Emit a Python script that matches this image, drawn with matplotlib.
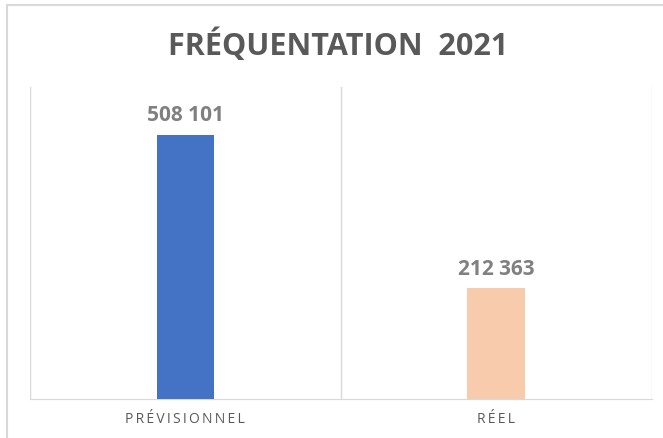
import matplotlib.pyplot as plt
from matplotlib.patches import Rectangle

# Fréquentation 2021
categories = ["PRÉVISIONNEL", "RÉEL"]
values = [508101, 212363]
colors = ["#4472C4", "#F8CBAD"]


def fmt(v):
    # french thousands separator
    return "{:,}".format(v).replace(",", " ")


def spaced(s):
    return "\u2009".join(s)


fig = plt.figure(figsize=(6.63, 4.39), dpi=100)
ax = fig.add_axes([0.045, 0.089, 0.938, 0.711])

x = list(range(len(categories)))
bars = ax.bar(x, values, width=0.185, color=colors, zorder=3)

for b, v in zip(bars, values):
    ax.text(b.get_x() + b.get_width() / 2, v + 18000, fmt(v),
            ha="center", va="bottom", fontsize=15, fontweight="bold",
            color="#808080", family="Open Sans")

ax.set_xlim(-0.5, 1.5)
ax.set_ylim(0, 600000)
for xv in [-0.5, 0.5, 1.5]:
    ax.axvline(xv, color="#D9D9D9", lw=1, zorder=1)

ax.set_yticks([])
ax.set_xticks(x)
ax.set_xticklabels([spaced(c) for c in categories], fontsize=10,
                   color="#595959", family="Open Sans")
ax.tick_params(axis="x", length=0, pad=9)
for s in ["top", "left", "right"]:
    ax.spines[s].set_visible(False)
ax.spines["bottom"].set_color("#D9D9D9")

fig.text(0.51, 0.897, "FRÉQUENTATION  2021", ha="center", va="center",
         fontsize=22, fontweight="bold", color="#595959", family="Open Sans")

# outer chart frame
fig.patches.append(Rectangle((0.010, -0.05), 1.05, 1.036, transform=fig.transFigure,
                             fill=False, edgecolor="#D9D9D9", lw=1.5))

fig.savefig("out.png", dpi=100)
